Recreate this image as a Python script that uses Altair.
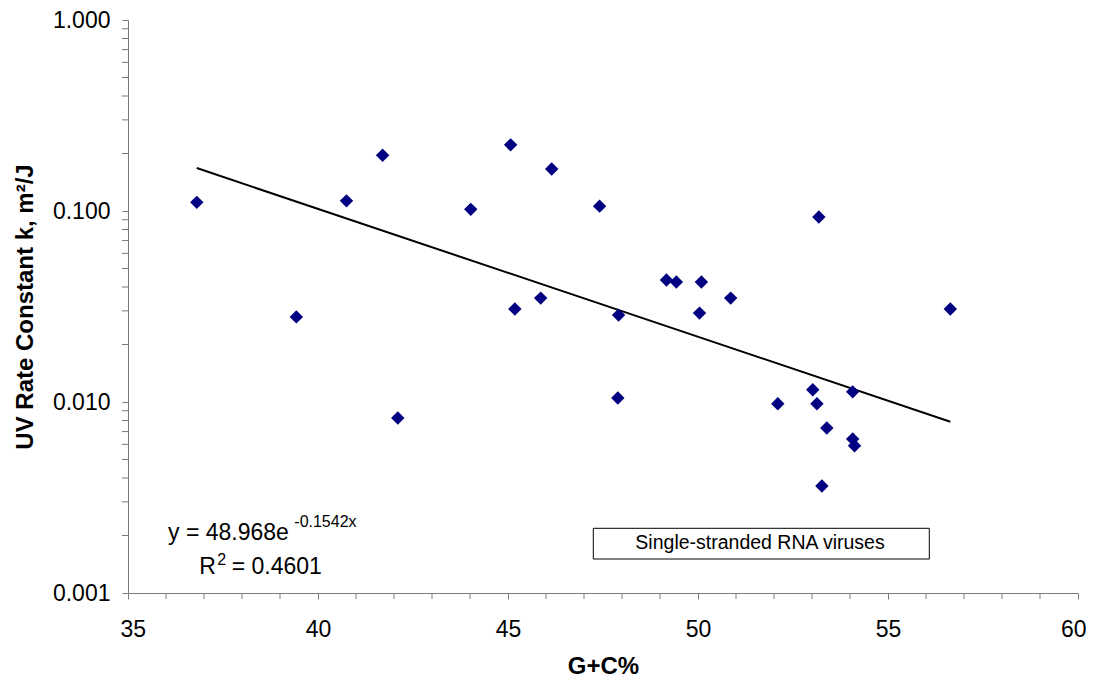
import altair as alt
import pandas as pd

# G+C content (%) and UV rate constant k (m^2/J) for single-stranded RNA viruses
gc_percent = [36.81, 39.43, 40.75, 41.70, 42.10, 44.02, 45.07, 45.18, 45.86, 46.15,
              47.41, 47.91, 47.89, 49.17, 49.43, 50.09, 50.04, 50.86, 52.10, 53.02,
              53.13, 53.18, 53.26, 53.39, 54.07, 54.07, 54.12, 56.64]
k_values = [0.111, 0.0279, 0.113, 0.196, 0.00824, 0.102, 0.222, 0.0307, 0.035, 0.166,
            0.106, 0.0285, 0.0105, 0.0435, 0.0425, 0.0425, 0.0292, 0.035, 0.0098, 0.0116,
            0.0098, 0.093, 0.00363, 0.00731, 0.0113, 0.0064, 0.0059, 0.0307]

# Excel exponential trendline shown on the chart: y = 48.968 e^(-0.1542 x)
trend_a = 48.968
trend_b = -0.1542

x_major = [35, 40, 45, 50, 55, 60]
x_minor = [v for v in range(35, 61) if v % 5 != 0]
y_major = [0.001, 0.01, 0.1, 1]
y_minor = [m * 10 ** e for e in (-3, -2, -1) for m in range(2, 10)]

eq_main = "y = 48.968e"
eq_exp = "-0.1542x"
r2_main = "R"
r2_sup = "2"
r2_val = "= 0.4601"
legend_text = "Single-stranded RNA viruses"

FONT = "Liberation Sans"
AXIS_GRAY = "#7a7a7a"

df = pd.DataFrame({"gc": gc_percent, "k": k_values})
trend_df = pd.DataFrame({"gc": [min(gc_percent), max(gc_percent)]})

xscale = alt.Scale(domain=[35, 60], nice=False, zero=False)
yscale = alt.Scale(type="log", domain=[0.001, 1], nice=False)

x_axis = alt.Axis(
    title="G+C%", values=x_major, format="d",
    labelOverlap=False, labelFlush=True, labelFlushOffset=8, labelBound=False,
    labelPadding=19, titleY=80, titleBaseline="alphabetic",
)
y_axis = alt.Axis(
    title="UV Rate Constant k, m²/J", values=y_major, format=".3f",
    labelOverlap=False, labelFlush=False, labelBound=False,
    labelPadding=12, titleAngle=270, titleX=-95.5, titleY=286.5,
    titleBaseline="alphabetic", titleAlign="center",
)

points = alt.Chart(df).mark_point(
    shape="diamond", filled=True, size=180, color="#000080", opacity=1
).encode(
    x=alt.X("gc:Q", scale=xscale, axis=x_axis),
    y=alt.Y("k:Q", scale=yscale, axis=y_axis),
)

trend = alt.Chart(trend_df).transform_calculate(
    k=f"{trend_a} * exp({trend_b} * datum.gc)"
).mark_line(color="black", strokeWidth=2).encode(
    x=alt.X("gc:Q", scale=xscale),
    y=alt.Y("k:Q", scale=yscale),
)

xminor_ticks = alt.Chart(pd.DataFrame({"v": x_minor})).mark_rule(
    color=AXIS_GRAY, strokeWidth=1
).encode(x=alt.X("v:Q", scale=xscale), y=alt.value(573), y2=alt.value(579))

yminor_ticks = alt.Chart(pd.DataFrame({"v": y_minor})).mark_rule(
    color=AXIS_GRAY, strokeWidth=1
).encode(y=alt.Y("v:Q", scale=yscale), x=alt.value(-6), x2=alt.value(0))

one = pd.DataFrame({"a": [0]})

def label(text, x, y, size, align="left"):
    return alt.Chart(one).mark_text(
        text=text, font=FONT, fontSize=size, color="black",
        align=align, baseline="alphabetic"
    ).encode(x=alt.value(x), y=alt.value(y))

box = alt.Chart(one).mark_rect(
    fill="white", stroke="black", strokeWidth=1
).encode(x=alt.value(465.3), x2=alt.value(801.3), y=alt.value(508.3), y2=alt.value(539))

chart = alt.layer(
    xminor_ticks,
    yminor_ticks,
    trend,
    points,
    box,
    label(legend_text, 632, 529.3, 19.5, align="center"),
    label(eq_main, 40, 520, 23),
    label(eq_exp, 166.3, 507.3, 16),
    label(r2_main, 71.3, 554.3, 23),
    label(r2_sup, 89.3, 545, 16),
    label(r2_val, 103.7, 554.3, 23),
).properties(
    width=950, height=573,
    autosize=alt.AutoSizeParams(type="none"),
    padding={"left": 120, "top": 12, "right": 8, "bottom": 84},
).configure_view(stroke=None).configure_axis(
    grid=False, domainColor=AXIS_GRAY, tickColor=AXIS_GRAY, tickSize=6,
    labelFont=FONT, labelFontSize=23, labelColor="black",
    titleFont=FONT, titleFontSize=24, titleFontWeight="bold", titleColor="black",
)

chart.save("out.html", embed_options={"renderer": "svg", "actions": False})
